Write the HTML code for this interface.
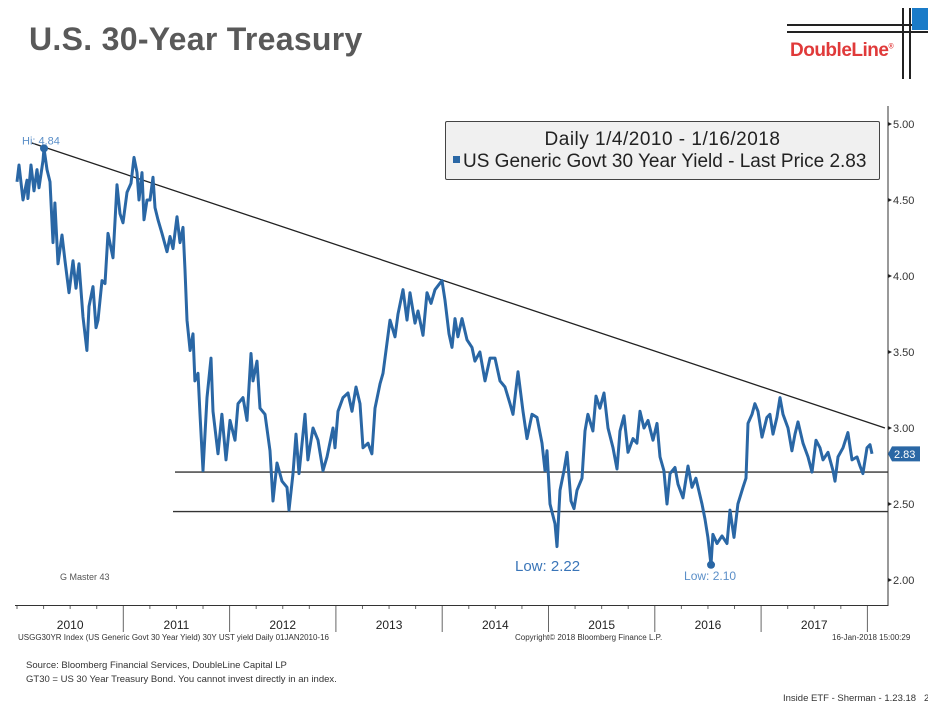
<!DOCTYPE html>
<html><head><meta charset="utf-8"><style>
body{margin:0;width:928px;height:705px;background:#fff;overflow:hidden;position:relative;font-family:"Liberation Sans",sans-serif}
.a{position:absolute;white-space:nowrap}
</style></head><body>
<div class="a" style="left:29px;top:21px;font-size:32px;font-weight:bold;color:#595959;letter-spacing:0.3px">U.S. 30-Year Treasury</div>
<div class="a" style="left:0;top:0">
<div class="a" style="left:787px;top:24px;width:141px;height:2px;background:#222"></div>
<div class="a" style="left:787px;top:31px;width:141px;height:2px;background:#222"></div>
<div class="a" style="left:902px;top:8px;width:2px;height:71px;background:#222"></div>
<div class="a" style="left:909px;top:8px;width:2px;height:71px;background:#222"></div>
<div class="a" style="left:912px;top:8px;width:16px;height:22px;background:#1a7bc8"></div>
<div class="a" style="left:790px;top:40px;font-size:19px;font-weight:bold;color:#e03a3a;letter-spacing:-0.5px">DoubleLine<sup style="font-size:7px">®</sup></div>
</div>
<svg class="a" style="left:0;top:0" width="928" height="705" id="svg"></svg>
<div class="a" style="left:445px;top:121px;width:433px;height:57px;background:#f0f0f0;border:1px solid #444;border-radius:2px">
<div class="a" style="left:0;width:433px;top:7px;text-align:center;font-size:19px;letter-spacing:0.5px;color:#222">Daily 1/4/2010 - 1/16/2018</div>
<div class="a" style="left:7px;top:29px;font-size:19px;color:#222"><span style="display:inline-block;width:7px;height:7px;background:#2a67a5;margin-right:3px;vertical-align:4px"></span>US Generic Govt 30 Year Yield - Last Price 2.83</div>
</div>
<div class="a" style="left:18px;top:633px;font-size:8px;color:#333">USGG30YR Index (US Generic Govt 30 Year Yield) 30Y UST yield  Daily 01JAN2010-16</div>
<div class="a" style="left:515px;top:633px;font-size:8px;color:#333">Copyright© 2018 Bloomberg Finance L.P.</div>
<div class="a" style="left:832px;top:633px;font-size:8px;color:#333">16-Jan-2018 15:00:29</div>
<div class="a" style="left:26px;top:660px;font-size:9.5px;color:#333">Source: Bloomberg Financial Services, DoubleLine Capital LP</div>
<div class="a" style="left:26px;top:674px;font-size:9.5px;color:#333">GT30 = US 30 Year Treasury Bond. You cannot invest directly in an index.</div>
<div class="a" style="left:783px;top:693px;font-size:9.5px;color:#333">Inside ETF - Sherman - 1.23.18 &nbsp; 2</div>
<script>
const years=["2010","2011","2012","2013","2014","2015","2016","2017"];
const yTicks=[2.00,2.50,3.00,3.50,4.00,4.50,5.00];
const tYears=[0,.019,.056,.094,.103,.132,.160,.188,.207,.245,.254,.282,.310,.339,.357,.386,.423,.452,.489,.527,.555,.583,.621,.658,.677,.715,.743,.762,.800,.828,.856,.903,.941,.969,.997,1.035,1.072,1.101,1.129,1.148,1.176,1.195,1.223,1.251,1.279,1.298,1.326,1.364,1.411,1.439,1.468,1.505,1.533,1.562,1.580,1.599,1.628,1.656,1.674,1.703,1.722,1.750,1.787,1.825,1.844,1.891,1.928,1.966,2.004,2.051,2.079,2.126,2.164,2.201,2.220,2.258,2.286,2.333,2.380,2.408,2.446,2.493,2.540,2.559,2.596,2.625,2.653,2.709,2.737,2.785,2.832,2.879,2.916,2.973,2.992,3.020,3.067,3.114,3.151,3.189,3.227,3.255,3.302,3.339,3.368,3.415,3.443,3.481,3.509,3.556,3.584,3.631,3.669,3.697,3.744,3.772,3.819,3.857,3.895,3.932,3.998,4.026,4.064,4.092,4.120,4.148,4.186,4.233,4.280,4.308,4.355,4.403,4.450,4.497,4.544,4.591,4.638,4.666,4.713,4.760,4.798,4.845,4.892,4.939,4.967,4.986,5.014,5.061,5.080,5.108,5.146,5.174,5.212,5.240,5.268,5.315,5.343,5.371,5.418,5.447,5.484,5.522,5.560,5.607,5.644,5.673,5.710,5.748,5.795,5.832,5.861,5.898,5.936,5.983,6.021,6.049,6.086,6.115,6.143,6.190,6.218,6.265,6.312,6.350,6.387,6.444,6.472,6.500,6.529,6.547,6.585,6.632,6.679,6.707,6.745,6.782,6.830,6.858,6.877,6.914,6.942,6.971,7.008,7.055,7.083,7.112,7.149,7.178,7.206,7.253,7.290,7.319,7.347,7.394,7.441,7.479,7.516,7.554,7.582,7.629,7.676,7.695,7.723,7.770,7.817,7.855,7.902,7.930,7.958,7.996,8.024,8.043];
const yields=[4.62,4.73,4.50,4.63,4.51,4.73,4.56,4.70,4.58,4.76,4.84,4.70,4.62,4.22,4.48,4.08,4.27,4.10,3.89,4.10,3.92,4.08,3.73,3.51,3.80,3.93,3.66,3.71,3.97,3.95,4.28,4.12,4.60,4.41,4.35,4.55,4.61,4.78,4.68,4.50,4.68,4.37,4.50,4.50,4.65,4.45,4.37,4.28,4.16,4.26,4.18,4.39,4.22,4.32,4.04,3.71,3.51,3.62,3.31,3.36,3.09,2.72,3.20,3.46,3.11,2.83,3.09,2.79,3.05,2.92,3.16,3.20,3.05,3.49,3.31,3.44,3.13,3.09,2.85,2.52,2.77,2.65,2.61,2.46,2.70,2.96,2.70,3.09,2.79,3.00,2.92,2.72,2.81,3.00,2.87,3.11,3.20,3.23,3.11,3.27,3.16,2.87,2.90,2.83,3.13,3.29,3.36,3.56,3.71,3.60,3.75,3.91,3.71,3.89,3.69,3.77,3.61,3.89,3.82,3.91,3.97,3.84,3.62,3.53,3.72,3.60,3.72,3.58,3.53,3.44,3.50,3.31,3.46,3.46,3.31,3.27,3.16,3.09,3.37,3.11,2.93,3.09,3.07,2.90,2.72,2.85,2.50,2.37,2.22,2.59,2.72,2.84,2.52,2.47,2.59,2.67,2.98,3.09,2.98,3.21,3.13,3.23,3.00,2.87,2.73,2.98,3.08,2.84,2.93,2.90,3.11,3.00,3.05,2.92,3.03,2.81,2.72,2.50,2.70,2.74,2.63,2.54,2.75,2.61,2.67,2.50,2.40,2.28,2.10,2.30,2.24,2.29,2.24,2.46,2.28,2.50,2.61,2.67,3.03,3.09,3.16,3.11,2.94,3.07,3.09,2.96,3.07,3.20,3.09,3.00,2.85,2.96,3.04,2.90,2.81,2.71,2.92,2.87,2.79,2.84,2.72,2.65,2.81,2.87,2.97,2.79,2.81,2.75,2.70,2.87,2.89,2.83];
const trend=[[0.14,4.875],[8.165,3.00]];
const supports=[2.71,2.45];
const X=t=>17+t*106.3, Y=v=>124+(5-v)*152;
const NS="http://www.w3.org/2000/svg", svg=document.getElementById('svg');
function mk(tag,at,txt){const e=document.createElementNS(NS,tag);for(const k in at)e.setAttribute(k,at[k]);if(txt!=null)e.textContent=txt;svg.appendChild(e);return e;}
let e=mk('line',{x1:888,y1:106,x2:888,y2:606,stroke:'#333','stroke-width':1});


e=mk('line',{x1:15,y1:605.5,x2:888,y2:605.5,stroke:'#333','stroke-width':1});


yTicks.forEach(v=>{
 const t=mk('path',{d:`M888 ${Y(v)-2}L892 ${Y(v)}L888 ${Y(v)+2}Z`,fill:'#222'});
 
 
 const l=mk('text',{x:893,y:Y(v)+4,'font-size':11,fill:'#333','font-family':'Liberation Sans'},v.toFixed(2));
 
 
});
for(let m=0;m<97;m+=3){const x=X(m/12);if(m%12===0&&m>0){const s=mk('line',{x1:x,y1:606,x2:x,y2:632,stroke:'#666','stroke-width':1});}else if(x<885){mk('line',{x1:x,y1:606,x2:x,y2:609,stroke:'#666','stroke-width':1});}}
years.forEach((y,i)=>{const l=mk('text',{x:X(i+0.5),y:629,'font-size':12,fill:'#222','text-anchor':'middle','font-family':'Liberation Sans'},y);
 
 });
e=mk('line',{x1:X(trend[0][0]),y1:Y(trend[0][1]),x2:X(trend[1][0]),y2:Y(trend[1][1]),stroke:'#222','stroke-width':1.3});


supports.forEach((s,i)=>{const l=mk('line',{x1:i?173:175,y1:Y(s),x2:888,y2:Y(s),stroke:'#333','stroke-width':1.4});
 
 });
let d='';tYears.forEach((t,i)=>{d+=(i?'L':'M')+X(t).toFixed(1)+' '+Y(yields[i]).toFixed(1);});
e=mk('path',{d:d,fill:'none',stroke:'#2a67a5','stroke-width':3,'stroke-linejoin':'round'});


let hi=0,lo=0;yields.forEach((v,i)=>{if(v>yields[hi])hi=i;if(v<yields[lo])lo=i;});
e=mk('circle',{cx:X(tYears[hi]),cy:Y(yields[hi]),r:4,fill:'#2a67a5'});


e=mk('text',{x:X(tYears[hi])-22,y:Y(yields[hi])-4,'font-size':11,fill:'#5b8fc8','font-family':'Liberation Sans'},'Hi: '+yields[hi].toFixed(2));


e=mk('circle',{cx:X(tYears[lo]),cy:Y(yields[lo]),r:4,fill:'#2a67a5'});


e=mk('text',{x:X(tYears[lo])-27,y:Y(yields[lo])+15,'font-size':12,fill:'#5b8fc8','font-family':'Liberation Sans'},'Low: '+yields[lo].toFixed(2));


e=mk('text',{x:515,y:571,'font-size':15,fill:'#3a75b8','font-family':'Liberation Sans'},'Low: 2.22');


e=mk('text',{x:60,y:580,'font-size':9,fill:'#555','font-family':'Liberation Sans'},'G Master 43');


const lp=yields[yields.length-1],ly=Y(lp);
e=mk('path',{d:`M888 ${ly}L892 ${ly-7.5}L920 ${ly-7.5}L920 ${ly+7.5}L892 ${ly+7.5}Z`,fill:'#2a67a5'});


e=mk('text',{x:894,y:ly+4,'font-size':11,fill:'#fff','font-family':'Liberation Sans'},lp.toFixed(2));


</script>
</body></html>
